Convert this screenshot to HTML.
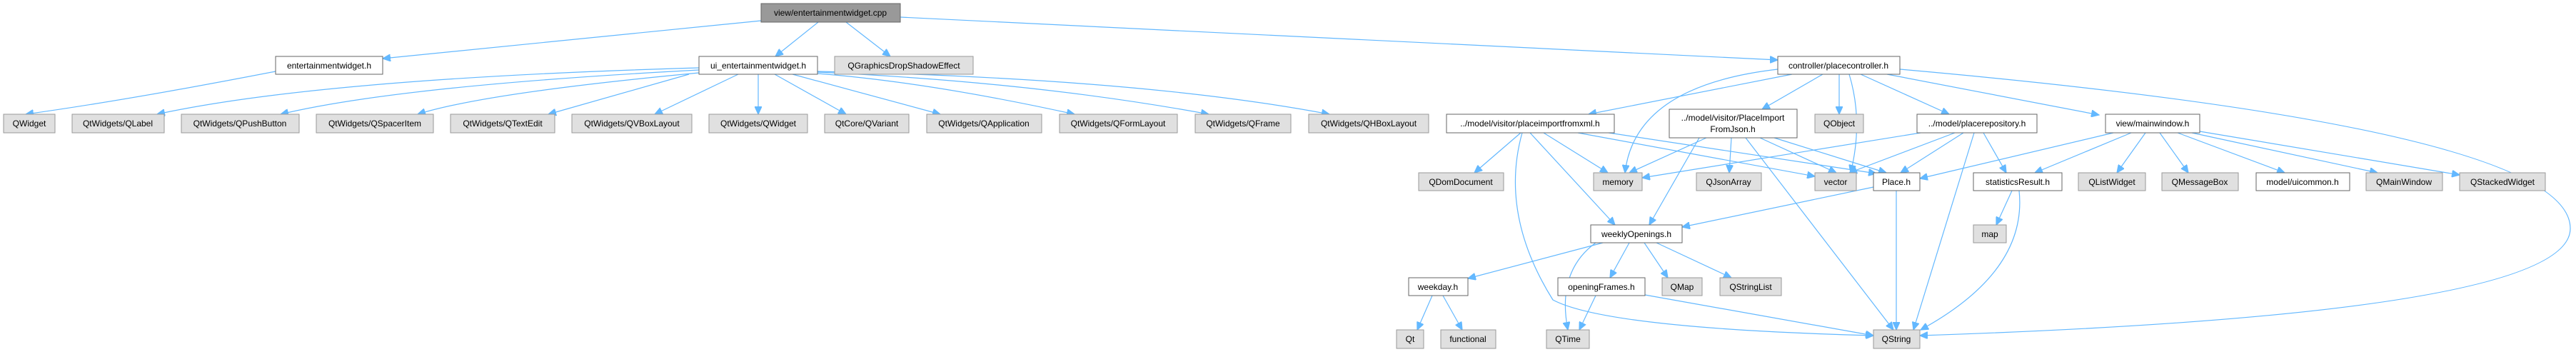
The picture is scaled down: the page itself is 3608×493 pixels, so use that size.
<!DOCTYPE html>
<html><head><meta charset="utf-8"><style>
html,body{margin:0;padding:0;background:#fff;}
svg{display:block;}
text{font-family:"Liberation Sans",sans-serif;font-size:12px;fill:#000;text-anchor:middle;}
.g{fill:#e0e0e0;stroke:#999;stroke-width:1;}
.w{fill:#fff;stroke:#666;stroke-width:1;}
.r{fill:#999;stroke:#666;stroke-width:1;}
path{fill:none;stroke:#63b8ff;stroke-width:1.2;}
</style></head><body>
<svg width="3608" height="493" viewBox="0 0 3608 493" xmlns="http://www.w3.org/2000/svg">
<defs><marker id="a" markerUnits="userSpaceOnUse" markerWidth="12" markerHeight="10" refX="11" refY="5" orient="auto"><path d="M0,0 L11,5 L0,10 Z" style="fill:#63b8ff;stroke:#63b8ff"/></marker></defs>
<g marker-end="url(#a)">
<path d="M1066,29 L536,82"/>
<path d="M1146,31 L1086,79"/>
<path d="M1185,31 L1247,79"/>
<path d="M1261,24 L2490,84"/>
<path d="M386,100 Q180,140 36,160"/>
<path d="M979,95 Q450,110 220,160"/>
<path d="M979,98 Q560,120 393,160"/>
<path d="M979,102 Q680,130 585,160"/>
<path d="M965,104 L768,160"/>
<path d="M1034,104 L917,160"/>
<path d="M1062,104 L1062,160"/>
<path d="M1085,104 L1185,160"/>
<path d="M1110,104 L1317,160"/>
<path d="M1145,103 Q1300,115 1505,160"/>
<path d="M1145,101 Q1450,115 1693,160"/>
<path d="M1145,100 Q1600,110 1862,160"/>
<path d="M2510,104 L2225,160"/>
<path d="M2553,104 L2468,153"/>
<path d="M2576,104 L2576,160"/>
<path d="M2606,104 L2730,160"/>
<path d="M2643,104 L2940,161"/>
<path d="M2661,97 Q3600,180 3600,320 Q3600,440 2689,470"/>
<path d="M2490,97 Q2290,120 2276,242"/>
<path d="M2590,104 Q2610,170 2592,242"/>
<path d="M2130,186 L2065,242"/>
<path d="M2132,186 Q2100,300 2175,420 Q2250,460 2624,470"/>
<path d="M2143,186 L2262,315"/>
<path d="M2162,186 L2252,242"/>
<path d="M2210,186 L2542,247"/>
<path d="M2240,184 L2628,243"/>
<path d="M2390,193 L2282,242"/>
<path d="M2425,193 L2422,242"/>
<path d="M2445,193 L2652,462"/>
<path d="M2380,193 L2310,315"/>
<path d="M2465,193 L2572,242"/>
<path d="M2485,193 L2642,242"/>
<path d="M2690,186 L2300,249"/>
<path d="M2738,186 L2590,242"/>
<path d="M2750,186 L2662,242"/>
<path d="M2765,186 L2680,462"/>
<path d="M2778,186 L2810,242"/>
<path d="M2960,186 L2689,250"/>
<path d="M2985,186 L2850,242"/>
<path d="M3005,186 L2965,242"/>
<path d="M3025,186 L3065,242"/>
<path d="M3050,186 L3200,242"/>
<path d="M3070,186 L3330,242"/>
<path d="M3081,184 L3445,245"/>
<path d="M2818,267 L2796,315"/>
<path d="M2828,267 Q2840,380 2690,462"/>
<path d="M2624,262 L2356,318"/>
<path d="M2656,267 L2656,462"/>
<path d="M2245,340 L2056,390"/>
<path d="M2235,340 Q2180,380 2196,462"/>
<path d="M2282,340 L2255,389"/>
<path d="M2303,340 L2336,389"/>
<path d="M2320,340 L2425,389"/>
<path d="M2006,414 L1985,462"/>
<path d="M2021,414 L2048,462"/>
<path d="M2235,414 L2212,462"/>
<path d="M2304,413 L2624,470"/>
</g>
<rect class="r" x="1066" y="5" width="195" height="26"/><text x="1163" y="22">view/entertainmentwidget.cpp</text>
<rect class="w" x="386" y="79" width="150" height="25"/><text x="461" y="96">entertainmentwidget.h</text>
<rect class="w" x="979" y="79" width="166" height="25"/><text x="1062" y="96">ui_entertainmentwidget.h</text>
<rect class="g" x="1169" y="79" width="194" height="25"/><text x="1266" y="96">QGraphicsDropShadowEffect</text>
<rect class="w" x="2490" y="79" width="171" height="25"/><text x="2575" y="96">controller/placecontroller.h</text>
<rect class="g" x="5" y="160" width="72" height="26"/><text x="41" y="177">QWidget</text>
<rect class="g" x="101" y="160" width="129" height="26"/><text x="165" y="177">QtWidgets/QLabel</text>
<rect class="g" x="254" y="160" width="165" height="26"/><text x="336" y="177">QtWidgets/QPushButton</text>
<rect class="g" x="443" y="160" width="164" height="26"/><text x="525" y="177">QtWidgets/QSpacerItem</text>
<rect class="g" x="631" y="160" width="146" height="26"/><text x="704" y="177">QtWidgets/QTextEdit</text>
<rect class="g" x="801" y="160" width="168" height="26"/><text x="885" y="177">QtWidgets/QVBoxLayout</text>
<rect class="g" x="993" y="160" width="138" height="26"/><text x="1062" y="177">QtWidgets/QWidget</text>
<rect class="g" x="1155" y="160" width="118" height="26"/><text x="1214" y="177">QtCore/QVariant</text>
<rect class="g" x="1298" y="160" width="161" height="26"/><text x="1378" y="177">QtWidgets/QApplication</text>
<rect class="g" x="1484" y="160" width="165" height="26"/><text x="1566" y="177">QtWidgets/QFormLayout</text>
<rect class="g" x="1674" y="160" width="134" height="26"/><text x="1741" y="177">QtWidgets/QFrame</text>
<rect class="g" x="1833" y="160" width="168" height="26"/><text x="1917" y="177">QtWidgets/QHBoxLayout</text>
<rect class="w" x="2026" y="160" width="235" height="26"/><text x="2143" y="177">../model/visitor/placeimportfromxml.h</text>
<rect class="w" x="2338" y="153" width="179" height="40"/><text x="2427" y="169">../model/visitor/PlaceImport</text><text x="2427" y="185">FromJson.h</text>
<rect class="g" x="2542" y="160" width="68" height="26"/><text x="2576" y="177">QObject</text>
<rect class="w" x="2685" y="160" width="168" height="26"/><text x="2769" y="177">../model/placerepository.h</text>
<rect class="w" x="2949" y="160" width="132" height="26"/><text x="3015" y="177">view/mainwindow.h</text>
<rect class="g" x="1987" y="242" width="119" height="25"/><text x="2046" y="259">QDomDocument</text>
<rect class="g" x="2232" y="242" width="68" height="25"/><text x="2266" y="259">memory</text>
<rect class="g" x="2376" y="242" width="91" height="25"/><text x="2421" y="259">QJsonArray</text>
<rect class="g" x="2542" y="242" width="58" height="25"/><text x="2571" y="259">vector</text>
<rect class="w" x="2624" y="242" width="65" height="25"/><text x="2656" y="259">Place.h</text>
<rect class="w" x="2764" y="242" width="124" height="25"/><text x="2826" y="259">statisticsResult.h</text>
<rect class="g" x="2911" y="242" width="94" height="25"/><text x="2958" y="259">QListWidget</text>
<rect class="g" x="3028" y="242" width="107" height="25"/><text x="3081" y="259">QMessageBox</text>
<rect class="w" x="3160" y="242" width="131" height="25"/><text x="3225" y="259">model/uicommon.h</text>
<rect class="g" x="3314" y="242" width="107" height="25"/><text x="3367" y="259">QMainWindow</text>
<rect class="g" x="3445" y="242" width="120" height="25"/><text x="3505" y="259">QStackedWidget</text>
<rect class="w" x="2228" y="315" width="128" height="25"/><text x="2292" y="332">weeklyOpenings.h</text>
<rect class="g" x="2764" y="315" width="46" height="25"/><text x="2787" y="332">map</text>
<rect class="w" x="1973" y="389" width="83" height="25"/><text x="2014" y="406">weekday.h</text>
<rect class="w" x="2182" y="389" width="122" height="25"/><text x="2243" y="406">openingFrames.h</text>
<rect class="g" x="2328" y="389" width="56" height="25"/><text x="2356" y="406">QMap</text>
<rect class="g" x="2409" y="389" width="86" height="25"/><text x="2452" y="406">QStringList</text>
<rect class="g" x="1956" y="462" width="38" height="26"/><text x="1975" y="479">Qt</text>
<rect class="g" x="2018" y="462" width="77" height="26"/><text x="2056" y="479">functional</text>
<rect class="g" x="2166" y="462" width="60" height="26"/><text x="2196" y="479">QTime</text>
<rect class="g" x="2624" y="462" width="65" height="26"/><text x="2656" y="479">QString</text>
</svg>
</body></html>
